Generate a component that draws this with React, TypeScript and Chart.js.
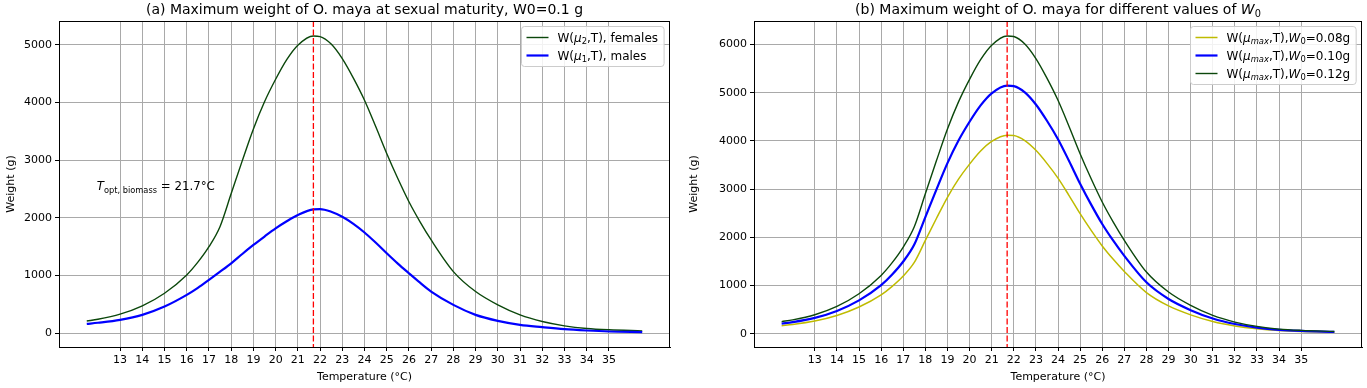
import React, { useEffect, useRef } from 'react';
import { Chart, registerables } from 'chart.js';

Chart.register(...registerables);

// ---------- data ----------
const TEMPS = [11.5, 12, 13, 14, 15, 16, 16.5, 17, 17.5, 18, 18.5, 19, 19.5, 20, 20.5, 21, 21.7, 22, 22.5, 23, 23.5, 24, 24.5, 25, 25.5, 26, 26.5, 27, 28, 29, 30, 31, 32, 33, 34, 35, 36.5];

// panel (a)
const FEMALES = [210, 240, 329, 473, 692, 1009, 1230, 1499, 1850, 2420, 2990, 3540, 4010, 4400, 4740, 4990, 5150, 5140, 5010, 4758, 4420, 4037, 3585, 3114, 2680, 2278, 1930, 1615, 1067, 721, 490, 317, 202, 127, 81, 58, 40];
const MALES = [160, 180, 231, 317, 461, 663, 785, 923, 1065, 1211, 1372, 1528, 1675, 1817, 1940, 2047, 2145, 2150, 2105, 2018, 1895, 1745, 1570, 1384, 1205, 1038, 875, 721, 490, 317, 213, 144, 104, 69, 46, 29, 17];

// panel (b)
const W0_008 = [168, 192, 263, 378, 554, 807, 984, 1199, 1480, 1936, 2392, 2832, 3208, 3520, 3792, 3992, 4120, 4112, 4008, 3806, 3536, 3230, 2868, 2491, 2144, 1822, 1544, 1292, 854, 577, 392, 254, 162, 102, 65, 46, 32];
const W0_010 = [210, 240, 329, 473, 692, 1009, 1230, 1499, 1850, 2420, 2990, 3540, 4010, 4400, 4740, 4990, 5150, 5140, 5010, 4758, 4420, 4037, 3585, 3114, 2680, 2278, 1930, 1615, 1067, 721, 490, 317, 202, 127, 81, 58, 40];
const W0_012 = [252, 288, 395, 568, 830, 1211, 1476, 1799, 2220, 2904, 3588, 4248, 4812, 5280, 5688, 5988, 6180, 6168, 6012, 5710, 5304, 4844, 4302, 3737, 3216, 2734, 2316, 1938, 1280, 865, 588, 380, 242, 152, 97, 70, 48];

const X_TICKS = [13, 14, 15, 16, 17, 18, 19, 20, 21, 22, 23, 24, 25, 26, 27, 28, 29, 30, 31, 32, 33, 34, 35];
const Y_TICKS_A = [0, 1000, 2000, 3000, 4000, 5000];
const Y_TICKS_B = [0, 1000, 2000, 3000, 4000, 5000, 6000];

const T_OPT = 21.7;

// ---------- styling ----------
const FONT = '"DejaVu Sans", sans-serif';
const GREEN = '#0b470b';
const BLUE = '#0000ff';
const YELLOW = '#bfbb00';
const GRID = '#a9a9a9';

type Seg = { t: string; it?: boolean; sub?: boolean };
type LegendItem = { segs: Seg[]; color: string; width: number };
type Overlay = { title: Seg[]; legend: LegendItem[]; note?: { segs: Seg[]; x: number; y: number } };

function setFont(ctx: CanvasRenderingContext2D, fs: number, italic?: boolean) {
  ctx.font = `${italic ? 'italic ' : ''}${fs}px ${FONT}`;
}

function measureRich(ctx: CanvasRenderingContext2D, segs: Seg[], fs: number) {
  let w = 0;
  for (const s of segs) {
    setFont(ctx, s.sub ? fs * 0.7 : fs, s.it);
    w += ctx.measureText(s.t).width;
  }
  return w;
}

function drawRich(ctx: CanvasRenderingContext2D, segs: Seg[], x: number, y: number, fs: number, align: 'left' | 'center' = 'left') {
  const w = measureRich(ctx, segs, fs);
  let cx = align === 'center' ? x - w / 2 : x;
  ctx.textAlign = 'left';
  ctx.textBaseline = 'alphabetic';
  const base = y + fs * 0.36;
  for (const s of segs) {
    const f = s.sub ? fs * 0.7 : fs;
    setFont(ctx, f, s.it);
    ctx.fillText(s.t, cx, s.sub ? base + fs * 0.22 : base);
    cx += ctx.measureText(s.t).width;
  }
}

function overlayPlugin(o: Overlay) {
  return {
    id: 'overlay',
    afterDatasetsDraw(chart: any) {
      const { ctx, chartArea: ca, scales } = chart;
      const x = scales.x.getPixelForValue(T_OPT);
      ctx.save();
      ctx.strokeStyle = '#ff0000';
      ctx.lineWidth = 1.3;
      ctx.setLineDash([6, 2.5]);
      ctx.beginPath();
      ctx.moveTo(x, ca.top);
      ctx.lineTo(x, ca.bottom);
      ctx.stroke();
      ctx.restore();
    },
    afterDraw(chart: any) {
      const { ctx, chartArea: ca, scales } = chart;
      ctx.save();
      // frame
      ctx.strokeStyle = '#000';
      ctx.lineWidth = 1;
      ctx.strokeRect(Math.round(ca.left) + 0.5, Math.round(ca.top) + 0.5, Math.round(ca.right - ca.left) - 1, Math.round(ca.bottom - ca.top));
      // title
      ctx.fillStyle = '#000';
      drawRich(ctx, o.title, (ca.left + ca.right) / 2, 9, 14, 'center');
      // note
      if (o.note) {
        drawRich(ctx, o.note.segs, scales.x.getPixelForValue(o.note.x), scales.y.getPixelForValue(o.note.y), 11.8);
      }
      // legend
      const fs = 12;
      let maxW = 0;
      for (const it of o.legend) maxW = Math.max(maxW, measureRich(ctx, it.segs, fs));
      const pad = 5, handle = 22, gap = 9, rowH = 18;
      const bw = pad + handle + gap + maxW + 6;
      const bh = 22 + (o.legend.length - 1) * rowH;
      const bx = Math.round(ca.right - 6 - bw) + 0.5;
      const by = Math.round(ca.top + 5) + 0.5;
      ctx.beginPath();
      (ctx as any).roundRect(bx, by, bw, bh, 3);
      ctx.fillStyle = 'rgba(255,255,255,0.85)';
      ctx.fill();
      ctx.strokeStyle = '#cccccc';
      ctx.lineWidth = 1;
      ctx.stroke();
      o.legend.forEach((it, i) => {
        const y = by + 11 + i * rowH;
        ctx.strokeStyle = it.color;
        ctx.lineWidth = it.width;
        ctx.beginPath();
        ctx.moveTo(bx + pad, y);
        ctx.lineTo(bx + pad + handle, y);
        ctx.stroke();
        ctx.fillStyle = '#000';
        drawRich(ctx, it.segs, bx + pad + handle + gap, y, fs);
      });
      ctx.restore();
    },
  };
}

function series(label: string, values: number[], color: string, width: number, order: number) {
  return {
    label,
    data: TEMPS.map((t, i) => ({ x: t, y: values[i] })),
    borderColor: color,
    backgroundColor: color,
    borderWidth: width,
    pointRadius: 0,
    fill: false,
    cubicInterpolationMode: 'monotone' as const,
    order,
  };
}

function makeConfig(opts: {
  datasets: any[];
  yMin: number;
  yMax: number;
  yTicks: number[];
  yWidth: number;
  padRight: number;
  overlay: Overlay;
}) {
  const tickFont = { family: FONT, size: 11 };
  return {
    type: 'line' as const,
    data: { datasets: opts.datasets },
    options: {
      animation: false as const,
      responsive: false,
      devicePixelRatio: 1,
      layout: { padding: { left: 0, right: opts.padRight, top: 21, bottom: 0 } },
      plugins: { legend: { display: false }, title: { display: false }, tooltip: { enabled: false } },
      scales: {
        x: {
          type: 'linear' as const,
          min: 10.25,
          max: 37.75,
          afterBuildTicks: (s: any) => { s.ticks = X_TICKS.map((v) => ({ value: v })); },
          afterFit: (s: any) => { s.height = 41; },
          ticks: { font: tickFont, color: '#000', autoSkip: false, maxRotation: 0, padding: 3, callback: (v: any) => String(v) },
          grid: { color: GRID, lineWidth: 1, drawTicks: true, tickLength: 4, tickColor: '#000' },
          border: { display: true, color: '#000', width: 1 },
          title: { display: true, text: 'Temperature (°C)', color: '#000', font: { family: FONT, size: 11 }, padding: { top: 2, bottom: 4 } },
        },
        y: {
          type: 'linear' as const,
          min: opts.yMin,
          max: opts.yMax,
          afterBuildTicks: (s: any) => { s.ticks = opts.yTicks.map((v) => ({ value: v })); },
          afterFit: (s: any) => { s.width = opts.yWidth; },
          ticks: { font: tickFont, color: '#000', padding: 3, callback: (v: any) => String(v) },
          grid: { color: GRID, lineWidth: 1, drawTicks: true, tickLength: 4, tickColor: '#000' },
          border: { display: true, color: '#000', width: 1 },
          title: { display: true, text: 'Weight (g)', color: '#000', font: { family: FONT, size: 11 }, padding: { top: 5, bottom: 2 } },
        },
      },
    },
    plugins: [overlayPlugin(opts.overlay)],
  };
}

const configA = () =>
  makeConfig({
    datasets: [
      series('W(μ2,T), females', FEMALES, GREEN, 1.4, 2),
      series('W(μ1,T), males', MALES, BLUE, 2.2, 1),
    ],
    yMin: -240,
    yMax: 5410,
    yTicks: Y_TICKS_A,
    yWidth: 59,
    padRight: 13,
    overlay: {
      title: [{ t: '(a) Maximum weight of O. maya at sexual maturity, W0=0.1 g' }],
      legend: [
        { segs: [{ t: 'W(' }, { t: 'μ', it: true }, { t: '2', sub: true }, { t: ',T), females' }], color: GREEN, width: 1.4 },
        { segs: [{ t: 'W(' }, { t: 'μ', it: true }, { t: '1', sub: true }, { t: ',T), males' }], color: BLUE, width: 2.2 },
      ],
      note: { segs: [{ t: 'T', it: true }, { t: 'opt, biomass', sub: true }, { t: ' = 21.7°C' }], x: 11.95, y: 2550 },
    },
  });

const legendB = (w: string): Seg[] => [
  { t: 'W(' }, { t: 'μ', it: true }, { t: 'max', it: true, sub: true }, { t: ',T),' }, { t: 'W', it: true }, { t: '0', sub: true }, { t: `=${w}g` },
];

const configB = () =>
  makeConfig({
    datasets: [
      series('W0=0.08g', W0_008, YELLOW, 1.5, 3),
      series('W0=0.10g', W0_010, BLUE, 2.2, 2),
      series('W0=0.12g', W0_012, GREEN, 1.4, 1),
    ],
    yMin: -275,
    yMax: 6490,
    yTicks: Y_TICKS_B,
    yWidth: 71,
    padRight: 5,
    overlay: {
      title: [{ t: '(b) Maximum weight of O. maya for different values of ' }, { t: 'W', it: true }, { t: '0', sub: true }],
      legend: [
        { segs: legendB('0.08'), color: YELLOW, width: 1.5 },
        { segs: legendB('0.10'), color: BLUE, width: 2.2 },
        { segs: legendB('0.12'), color: GREEN, width: 1.4 },
      ],
    },
  });

function Panel({ make, width }: { make: () => any; width: number }) {
  const ref = useRef<HTMLCanvasElement | null>(null);
  useEffect(() => {
    if (!ref.current) return;
    const chart = new Chart(ref.current, make());
    return () => chart.destroy();
  }, []);
  return <canvas ref={ref} width={width} height={388} style={{ display: 'block', width, height: 388 }} />;
}

export default function App() {
  return (
    <div style={{ position: 'absolute', left: 0, top: 0, width: 1367, height: 388, display: 'flex', background: '#fff' }}>
      <Panel make={configA} width={683} />
      <Panel make={configB} width={684} />
    </div>
  );
}
